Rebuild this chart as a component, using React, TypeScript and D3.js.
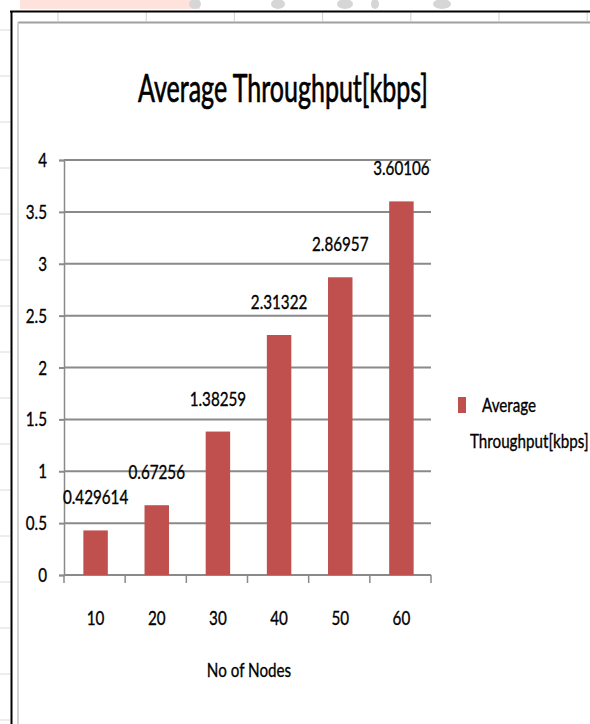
import React, { useEffect, useRef } from 'react';
import * as d3 from 'd3';

const nodes = ['10', '20', '30', '40', '50', '60'];
const throughput = [0.429614, 0.67256, 1.38259, 2.31322, 2.86957, 3.60106];
const valueLabels = ['0.429614', '0.67256', '1.38259', '2.31322', '2.86957', '3.60106'];
const yTicks = [0, 0.5, 1, 1.5, 2, 2.5, 3, 3.5, 4];

const FONT = 'Lato, "Open Sans", sans-serif';
const SX = 0.8; // squeeze text horizontally, the source looks like a stretched Calibri

const App: React.FC = () => {
  const svgRef = useRef<SVGSVGElement>(null);

  useEffect(() => {
    if (!svgRef.current) return;
    const svg = d3.select(svgRef.current);
    svg.selectAll('*').remove();

    const label = (
      parent: d3.Selection<any, any, any, any>,
      x: number, y: number, txt: string, size: number,
      anchor = 'middle', sx = SX, heavy = 0.35
    ) =>
      parent.append('text')
        .attr('transform', `translate(${x},${y}) scale(${sx},1)`)
        .attr('text-anchor', anchor)
        .attr('font-family', FONT).attr('font-size', size)
        .attr('fill', '#000').attr('stroke', '#000').attr('stroke-width', heavy)
        .text(txt);

    // spreadsheet remnants behind the chart frame
    svg.append('rect').attr('x', 0).attr('y', 0).attr('width', 590).attr('height', 724).attr('fill', '#fff');
    svg.append('rect').attr('x', 20).attr('y', 0).attr('width', 180).attr('height', 9).attr('fill', '#fde3dc');
    [[195, 6], [278, 7], [345, 8], [375, 4], [442, 9]].forEach(([cx, r]) => {
      svg.append('ellipse').attr('cx', cx).attr('cy', 4).attr('rx', r).attr('ry', 5).attr('fill', '#d6d6d6');
    });
    d3.range(58, 590, 88.2).forEach(xx => {
      svg.append('line').attr('x1', xx).attr('x2', xx).attr('y1', 12).attr('y2', 21)
        .attr('stroke', '#d0d0d0');
    });
    d3.range(30, 724, 46).forEach(yy => {
      svg.append('line').attr('x1', 0).attr('x2', 10).attr('y1', yy).attr('y2', yy).attr('stroke', '#dadada');
    });

    // frames
    svg.append('line').attr('x1', 10).attr('x2', 590).attr('y1', 11.5).attr('y2', 11.5)
      .attr('stroke', '#000').attr('stroke-width', 2);
    svg.append('line').attr('x1', 11.5).attr('x2', 11.5).attr('y1', 11).attr('y2', 724)
      .attr('stroke', '#000').attr('stroke-width', 2);
    svg.append('line').attr('x1', 18).attr('x2', 590).attr('y1', 22.5).attr('y2', 22.5)
      .attr('stroke', '#a0a0a0').attr('stroke-width', 2);
    svg.append('line').attr('x1', 18).attr('x2', 18).attr('y1', 22).attr('y2', 724)
      .attr('stroke', '#c4c4c4').attr('stroke-width', 1.5);

    const left = 64, right = 431, top = 160, bottom = 575;

    const x = d3.scaleBand<string>().domain(nodes).range([left, right]).paddingInner(0.6).paddingOuter(0.3);
    const y = d3.scaleLinear().domain([0, 4]).range([bottom, top]);

    // title, fitted to the source width
    const title = label(svg, 283, 102, 'Average Throughput[kbps]', 39, 'middle', 1, 0.7);
    const tw = (title.node() as SVGTextElement).getComputedTextLength();
    title.attr('transform', `translate(283,102) scale(${290 / tw},1)`);

    // gridlines
    svg.append('g').selectAll('line').data(yTicks.filter(t => t > 0)).enter().append('line')
      .attr('x1', left).attr('x2', right)
      .attr('y1', d => y(d)).attr('y2', d => y(d))
      .attr('stroke', '#8a8a8a').attr('stroke-width', 2);

    // y axis
    const yAxis = svg.append('g').attr('transform', `translate(${left},0)`)
      .call(d3.axisLeft(y).tickValues(yTicks).tickSize(5).tickFormat(() => ''));
    yAxis.select('.domain').attr('stroke', '#8a8a8a').attr('stroke-width', 1.5);
    yAxis.selectAll('.tick line').attr('stroke', '#8a8a8a').attr('stroke-width', 2);
    const yl = svg.append('g');
    yTicks.forEach(t => label(yl, 47, y(t) + 7, String(t), 19, 'end'));

    // x axis with boundary ticks
    const xa = svg.append('g');
    xa.append('line').attr('x1', left).attr('x2', right).attr('y1', bottom).attr('y2', bottom)
      .attr('stroke', '#8a8a8a').attr('stroke-width', 2);
    const bounds = d3.range(nodes.length + 1).map(i => left + i * (right - left) / nodes.length);
    xa.selectAll('line.t').data(bounds).enter().append('line').attr('class', 't')
      .attr('x1', d => d).attr('x2', d => d).attr('y1', bottom).attr('y2', bottom + 8)
      .attr('stroke', '#8a8a8a').attr('stroke-width', 1.5);
    nodes.forEach((n, i) => label(xa, (bounds[i] + bounds[i + 1]) / 2 + 1, 625, n, 19));

    label(svg, 249, 677, 'No of Nodes', 20, 'middle', 0.76);

    // bars
    svg.append('g').selectAll('rect').data(throughput).enter().append('rect')
      .attr('x', (d, i) => x(nodes[i])! + 1)
      .attr('y', d => y(d))
      .attr('width', x.bandwidth())
      .attr('height', d => bottom - y(d))
      .attr('fill', '#c0504d');

    // value labels
    const vl = svg.append('g');
    throughput.forEach((v, i) =>
      label(vl, x(nodes[i])! + 1 + x.bandwidth() / 2, y(v) - 26, valueLabels[i], 19));

    // legend
    svg.append('rect').attr('x', 458).attr('y', 397).attr('width', 8).attr('height', 16).attr('fill', '#c0504d');
    label(svg, 482, 412, 'Average', 19, 'start');
    label(svg, 470, 448, 'Throughput[kbps]', 19, 'start');
  }, []);

  return (
    <svg ref={svgRef} width={590} height={724} style={{ position: 'absolute', left: 0, top: 0 }} />
  );
};

export default App;
